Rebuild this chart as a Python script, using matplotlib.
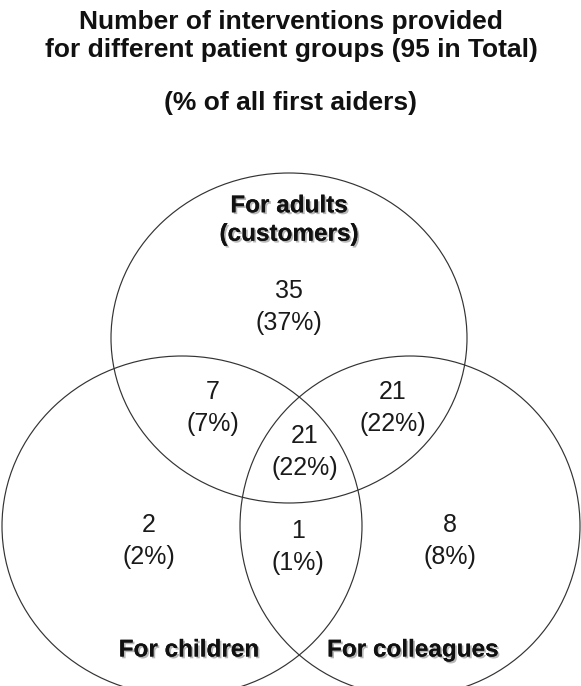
import matplotlib
matplotlib.use("Agg")
import matplotlib.pyplot as plt
from matplotlib.patches import Ellipse
import matplotlib.patheffects as pe

plt.rcParams['font.family'] = ['Liberation Sans', 'DejaVu Sans']

# Venn data: counts and share of all first aiders
regions = ['adults only', 'adults & children', 'adults & colleagues', 'all three',
           'children only', 'children & colleagues', 'colleagues only']
counts = [35, 7, 21, 21, 2, 1, 8]
percents = [37, 7, 22, 22, 2, 1, 8]
set_names = ['For adults\n(customers)', 'For children', 'For colleagues']
total = 95

# layout in pixel coordinates (x right, y down): (cx, cy, rx, ry)
circles = [(289, 338, 178, 165), (182, 526, 180, 170), (410, 526, 170, 170)]
region_xy = [(289, 307), (213, 408), (393, 408), (305, 452), (149, 541), (298, 547), (450, 541)]
name_xy = [(289, 220), (189, 650), (413, 650)]

fig = plt.figure(figsize=(5.81, 6.86), dpi=100)
ax = fig.add_axes([0, 0, 1, 1])
ax.set_xlim(0, 581)
ax.set_ylim(686, 0)
ax.axis('off')

for cx, cy, rx, ry in circles:
    ax.add_patch(Ellipse((cx, cy), 2 * rx, 2 * ry, fill=False, edgecolor='#333333', linewidth=0.85))

for (x, y), n, p in zip(region_xy, counts, percents):
    ax.text(x, y, f"{n}\n({p}%)", ha='center', va='center', fontsize=18,
            color='#1a1a1a', linespacing=1.4)

shadow = [pe.withSimplePatchShadow(offset=(1.3, -1.3), shadow_rgbFace='#888888', alpha=0.6), pe.Normal()]
for (x, y), name in zip(name_xy, set_names):
    ax.text(x, y, name, ha='center', va='center', fontsize=17.5, fontweight='bold',
            color='#111111', linespacing=1.3, path_effects=shadow)

ax.text(291, 36, f"Number of interventions provided\nfor different patient groups ({total} in Total)",
        ha='center', va='center', fontsize=19, fontweight='bold', color='#111111', linespacing=1.25)
ax.text(291, 103, "(% of all first aiders)", ha='center', va='center', fontsize=19,
        fontweight='bold', color='#111111')

fig.savefig('out.png', dpi=100, facecolor='white')
